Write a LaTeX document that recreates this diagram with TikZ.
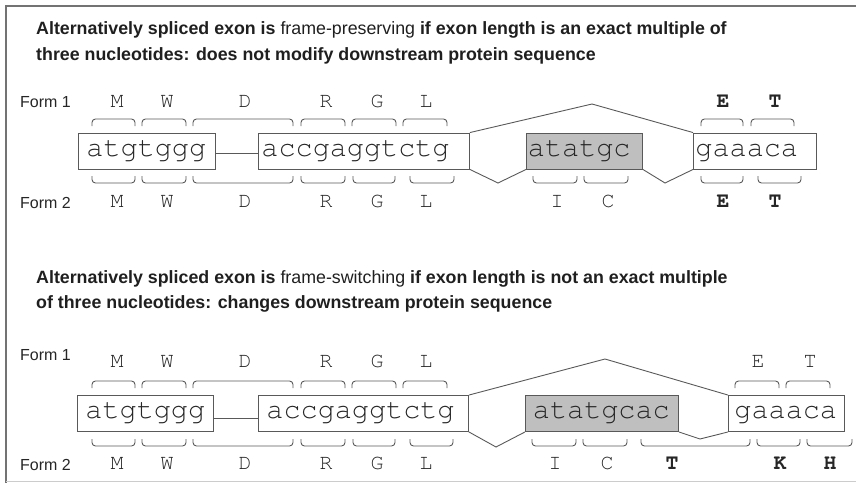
\documentclass[tikz,border=0pt]{standalone}
\usepackage{fontspec}
\setmainfont{Liberation Sans}
\newcommand{\seqfont}{\fontencoding{OT1}\fontfamily{pcr}\fontsize{28.5}{30}\selectfont}
\newcommand{\aafont}{\fontencoding{OT1}\fontfamily{pcr}\fontsize{21.5}{22}\selectfont}
\newcommand{\codonup}[3]{\draw[codon] (#1,#3+7) -- (#1,#3) -- (#2,#3) -- (#2,#3+7);}
\newcommand{\codondown}[3]{\draw[codon] (#1,#3-7) -- (#1,#3) -- (#2,#3) -- (#2,#3-7);}
\colorlet{inkgray}{black!85}
\colorlet{linegray}{black!65}
\tikzset{
  exon/.style={draw=linegray, line width=0.9pt, anchor=west, minimum height=36pt,
    inner ysep=0pt, text height=18pt, text depth=8pt, align=left, font=\seqfont, text=inkgray},
  spliced/.style={fill=black!25},
  junction/.style={draw=linegray, line width=0.9pt},
  codon/.style={draw=linegray, line width=0.9pt, rounded corners=3.5pt},
  aa/.style={anchor=base, inner sep=0pt, font=\aafont, text=inkgray},
  aabold/.style={aa, font=\aafont\bfseries},
  form/.style={anchor=base west, inner sep=0pt, font=\fontsize{16}{16}\selectfont, text=inkgray},
  headline/.style={anchor=base west, inner sep=0pt, font=\fontsize{17.8}{18}\selectfont, text=black!88}
}

\begin{document}
\begin{tikzpicture}[x=1pt, y=-1pt]
  \useasboundingbox (0,0) rectangle (856,483);
  \draw[black!55, line width=1.2pt] (856,6) -- (6,6) -- (6,483);
  \draw[black!20, line width=0.8pt] (6,481) -- (856,481);

  % frame-preserving exon
  \node[headline] (h1a) at (36,34) {\textbf{Alternatively spliced exon is} frame-preserving \textbf{if exon length is an exact multiple of}};
  \node[headline] (h1b) at (36,60) {\textbf{three nucleotides: does not modify downstream protein sequence}};
  \node[form] (f1one) at (20,107) {Form 1};
  \node[form] (f1two) at (20,208) {Form 2};

  \node[exon, inner xsep=8pt, text width=121pt] (f1a) at (78,151) {atgtggg};
  \node[exon, inner xsep=3pt, text width=205pt] (f1b) at (258,151) {accgaggtctg};
  \node[exon, spliced, inner xsep=1.5pt, text width=113pt] (f1c) at (526,151) {atatgc};
  \node[exon, inner xsep=2pt, text width=119pt] (f1d) at (693,151) {gaaaca};

  \coordinate (f1top) at (592,104);
  \coordinate (f1dl) at (498,183);
  \coordinate (f1dr) at (665,183);
  \draw[junction] (f1a.east |- 0,153) -- (f1b.west |- 0,153);
  \draw[junction] (f1b.north east) -- (f1top) -- (f1d.north west);
  \draw[junction] (f1b.south east) -- (f1dl) -- (f1c.south west);
  \draw[junction] (f1c.south east) -- (f1dr) -- (f1d.south west);

  \foreach \a/\b in {92/135,142/186,193/293,301/345,352/396,403/447,701/743,751/794}
    {\codonup{\a}{\b}{119}}
  \foreach \a/\b in {92/135,142/186,193/293,301/345,353/395,410/454,533/577,584/628,701/743,758/801}
    {\codondown{\a}{\b}{183}}

  % frame-switching exon
  \node[headline] (h2a) at (36,283) {\textbf{Alternatively spliced exon is} frame-switching \textbf{if exon length is not an exact multiple}};
  \node[headline] (h2b) at (36,308) {\textbf{of three nucleotides: changes downstream protein sequence}};
  \node[form] (f2one) at (20,360) {Form 1};
  \node[form] (f2two) at (20,470) {Form 2};

  \node[exon, inner xsep=8pt, text width=120pt] (f2a) at (77,413.5) {atgtggg};
  \node[exon, inner xsep=8pt, text width=194pt] (f2b) at (258,413.5) {accgaggtctg};
  \node[exon, spliced, inner xsep=7.5pt, text width=138pt] (f2c) at (525,413.5) {atatgcac};
  \node[exon, inner xsep=6pt, text width=104pt] (f2d) at (728,413.5) {gaaaca};

  \coordinate (f2top) at (605,359);
  \coordinate (f2dl) at (496,447);
  \coordinate (f2dr) at (700,439);
  \draw[junction] (f2a.east |- 0,418) -- (f2b.west |- 0,418);
  \draw[junction] (f2b.north east) -- (f2top) -- (f2d.north west);
  \draw[junction] (f2b.south east) -- (f2dl) -- (f2c.south west);
  \draw[junction] (f2c.south east) -- (f2dr) -- (f2d.south west);

  \foreach \a/\b in {92/135,142/186,193/293,301/345,352/396,403/447,735/779,786/830}
    {\codonup{\a}{\b}{381}}
  \foreach \a/\b in {92/135,142/186,193/293,301/345,353/395,410/453,532/576,583/627,641/750,757/800,807/852}
    {\codondown{\a}{\b}{446}}

  % amino acids shared by both forms
  \foreach \x/\l [count=\i] in {117/M,167/W,245/D,326/R,377/G,426/L} {
    \node[aa] (u1-\i) at (\x,107) {\l};
    \node[aa] (d1-\i) at (\x,207) {\l};
    \node[aa] (u2-\i) at (\x,367) {\l};
    \node[aa] (d2-\i) at (\x,469) {\l};
  }
  \node[aabold] (u1-7) at (723,107) {E};
  \node[aabold] (u1-8) at (775,107) {T};
  \node[aa] (d1-7) at (557,207) {I};
  \node[aa] (d1-8) at (608,207) {C};
  \node[aabold] (d1-9) at (723,207) {E};
  \node[aabold] (d1-10) at (775,207) {T};

  \node[aa] (u2-7) at (758,367) {E};
  \node[aa] (u2-8) at (810,367) {T};
  \node[aa] (d2-7) at (555,469) {I};
  \node[aa] (d2-8) at (607,469) {C};
  \node[aabold] (d2-9) at (672,469) {T};
  \node[aabold] (d2-10) at (780,469) {K};
  \node[aabold] (d2-11) at (830,469) {H};
\end{tikzpicture}
\end{document}
